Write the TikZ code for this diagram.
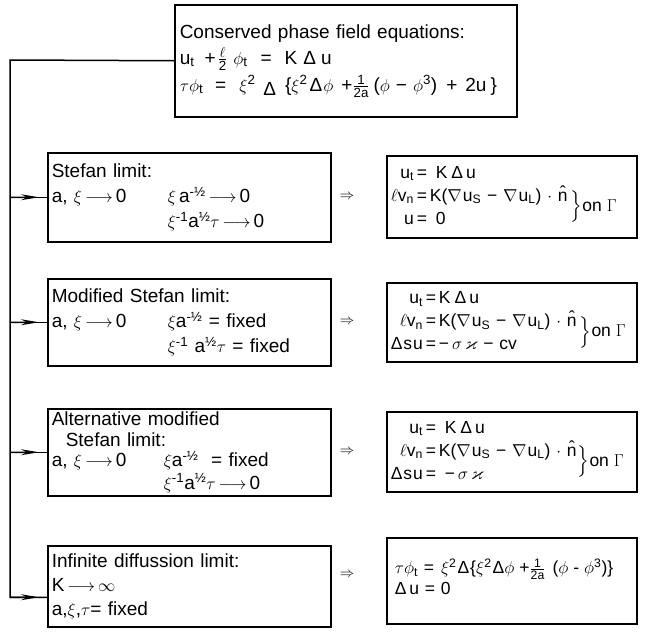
\documentclass[tikz,border=0pt]{standalone}
\usepackage{amsmath,amssymb}
\usepackage{fontspec}
\setmainfont{Liberation Sans}
\usetikzlibrary{arrows.meta,calc}
\newcommand{\onGam}{\raisebox{-10pt}[0pt][0pt]{$\left.\rule[-11pt]{0pt}{28pt}\right\}$on\hspace{5pt}$\Gamma$}}
\newcommand{\lto}{\hspace{3pt}$\longrightarrow$\hspace{3pt}}
\newcommand{\nb}{$\nabla$\kern1pt}
\newcommand{\KDu}{K\hspace{4pt}Δ\hspace{3pt}u}
\begin{document}
\begin{tikzpicture}[x=1pt,y=-1pt]
\tikzset{
  box/.style={draw, line width=1.5pt, anchor=north west, align=left, inner xsep=4pt, inner ysep=0pt, font=\fontsize{19}{25}\selectfont},
  rbox/.style={box, font=\fontsize{17.5}{23}\selectfont, minimum width=250pt, text width=242pt},
  link/.style={line width=1.5pt},
  tip/.style={line width=1.5pt, -{Stealth[length=18pt,width=6pt]}},
  impl/.style={font=\fontsize{15}{20}\selectfont, inner sep=0pt}
}
\useasboundingbox (0,0) rectangle (645,632);

% top box
\node[box, minimum width=342pt, minimum height=112pt, text width=332pt, inner xsep=5pt, font=\fontsize{19}{26}\selectfont] (top) at (174,4)
 {Conserved phase field equations:\\
  u\textsubscript{t}\hspace{10pt}+\hspace{2pt}$\frac{\ell}{\text{2}}$\hspace{6pt}$\phi$\textsubscript{t}\hspace{13pt}=\hspace{13pt}K\hspace{6pt}Δ\hspace{5pt}u\\[1pt]
  $\tau\phi$\textsubscript{t}\hspace{12pt}=\hspace{13pt}$\xi^{\text{2}}$\hspace{8pt}\raisebox{-4pt}{Δ}\hspace{9pt}\{$\xi^{\text{2}}$\hspace{2pt}Δ\hspace{1pt}$\phi$\hspace{8pt}+$\frac{\text{1}}{\text{2a}}$\hspace{4pt}($\phi$\hspace{6pt}−\hspace{6pt}$\phi^{\text{3}}$)\hspace{9pt}+\hspace{8pt}2u\hspace{4pt}\}};

% left boxes
\node[box, minimum width=283pt, minimum height=89pt, text width=275pt] (b1) at (47,152)
 {Stefan limit:\\
  \makebox[116pt][l]{a, $\xi$\lto 0}$\xi$\,a\textsuperscript{-½}\lto 0\\
  \hspace*{116pt}$\xi$\textsuperscript{-1}a\textsuperscript{½}$\tau$\lto 0};

\node[box, minimum width=283pt, minimum height=87pt, text width=275pt] (b2) at (47,278)
 {Modified Stefan limit:\\
  \makebox[116pt][l]{a, $\xi$\lto 0}$\xi$a\textsuperscript{-½} = fixed\\
  \hspace*{116pt}$\xi$\textsuperscript{-1} a\textsuperscript{½}$\tau$ = fixed};

\node[box, minimum width=283pt, minimum height=87pt, text width=275pt, font=\fontsize{19}{20.5}\selectfont] (b3) at (47,408)
 {Alternative modified\\
  \hspace*{14pt}Stefan limit:\\
  \makebox[112pt][l]{a, $\xi$\lto 0}$\xi$a\textsuperscript{-½} \ = fixed\\[2pt]
  \hspace*{112pt}$\xi$\textsuperscript{-1}a\textsuperscript{½}$\tau$\lto 0};

\node[box, minimum width=283pt, minimum height=81pt, text width=275pt, font=\fontsize{19}{24}\selectfont] (b4) at (47,545)
 {Infinite diffussion limit:\\
  K\lto $\infty$\\
  a,$\xi$,$\tau$= fixed};

% right boxes
\node[rbox, minimum height=82pt] (r1) at (386,155)
 {\begin{tabular}{@{}r@{\,=\,}l@{}}
  u\textsubscript{t} & \ \KDu\\
  $\ell$v\textsubscript{n} & K(\nb u\textsubscript{S} − \nb u\textsubscript{L}) $\cdot$ \^{n}\hspace{2pt}\onGam\\
  u & \ 0
  \end{tabular}};

\node[rbox, minimum height=79pt] (r2) at (386,282)
 {\begin{tabular}{@{}r@{\,=\,}l@{}}
  u\textsubscript{t} & \KDu\\
  $\ell$v\textsubscript{n} & K(\nb u\textsubscript{S} − \nb u\textsubscript{L}) $\cdot$ \^{n}\hspace{2pt}\onGam\\
  Δ\kern1pt s\kern1pt u & −\,$\sigma\,\varkappa$ − cv
  \end{tabular}};

\node[rbox, minimum height=80pt] (r3) at (386,411)
 {\begin{tabular}{@{}r@{\,=\,}l@{}}
  u\textsubscript{t} & \ \KDu\\
  $\ell$v\textsubscript{n} & K(\nb u\textsubscript{S} − \nb u\textsubscript{L}) $\cdot$ \^{n}\onGam\\
  Δ\kern1pt s\kern1pt u & \ −\,$\sigma\,\varkappa$
  \end{tabular}};

\node[rbox, minimum height=86pt, font=\fontsize{17.5}{21}\selectfont] (r4) at (386,537)
 {\hspace{4pt}$\tau\phi$\textsubscript{t} =\hspace{7pt}$\xi^{\text{2}}$\hspace{1pt}Δ\hspace{1pt}\{$\xi^{\text{2}}$\hspace{1pt}Δ$\phi$\hspace{5pt}+$\frac{\text{1}}{\text{2a}}$\hspace{7pt}($\phi$\hspace{5pt}-\hspace{5pt}$\phi^{\text{3}}$)\}\\
  \hspace{4pt}Δ\,u = 0\rule[-8pt]{0pt}{0pt}};

% implication arrows
\node[impl] (i1) at (347,197) {$\Rightarrow$};
\node[impl] (i2) at (347,322) {$\Rightarrow$};
\node[impl] (i3) at (347,452) {$\Rightarrow$};
\node[impl] (i4) at (347,575) {$\Rightarrow$};

% connectors
\coordinate (j0) at (10,60);
\coordinate (e4) at ([yshift=-11pt]b4.west);
\coordinate (j4) at (j0 |- e4);
\coordinate (j1) at (j0 |- b1.west);
\coordinate (j2) at (j0 |- b2.west);
\coordinate (j3) at (j0 |- b3.west);
\draw[link] (top.west) -- (j0) -- (j4) -- (e4);
\draw[link] (j1) -- (b1.west);
\draw[link] (j2) -- (b2.west);
\draw[link] (j3) -- (b3.west);
\draw[tip] (j1) -- ($(j1)!0.78!(b1.west)$);
\draw[tip] (j2) -- ($(j2)!0.78!(b2.west)$);
\draw[tip] (j3) -- ($(j3)!0.78!(b3.west)$);
\draw[tip] (j4) -- ($(j4)!0.78!(e4)$);
\end{tikzpicture}
\end{document}
